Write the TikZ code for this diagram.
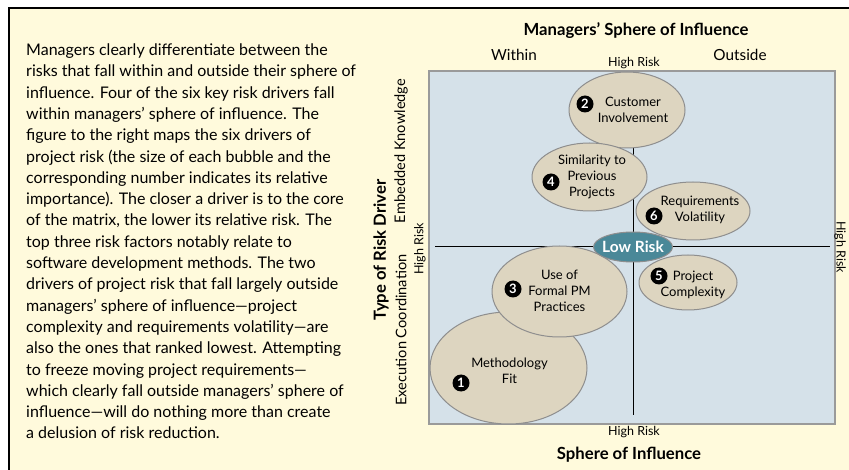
\documentclass[tikz,border=0pt]{standalone}
\usepackage{fontspec}
\setmainfont{Lato}
\usetikzlibrary{shapes.geometric}
\definecolor{creambg}{HTML}{FFFADC}
\definecolor{matrixbg}{HTML}{D5E1E9}
\definecolor{matrixline}{HTML}{9A9A9A}
\definecolor{bubblefill}{HTML}{DDD5C0}
\definecolor{bubbleline}{HTML}{8E8E8E}
\definecolor{lowriskfill}{HTML}{4A8898}
\begin{document}
\begin{tikzpicture}[x=1pt,y=-1pt,
  bubble/.style={ellipse, draw=bubbleline, fill=bubblefill, line width=1pt, inner sep=0pt},
  numdot/.style={circle, fill=black, text=white, font=\fontsize{13}{13}\selectfont\bfseries, inner sep=0pt, minimum size=17pt},
  btext/.style={align=center, font=\fontsize{13}{16}\selectfont, inner sep=0pt},
  axisline/.style={line width=1pt, black},
  smalllabel/.style={font=\fontsize{12.5}{12.5}\selectfont, inner sep=0pt},
  midlabel/.style={font=\fontsize{15.3}{15.3}\selectfont, inner sep=0pt},
  sidelabel/.style={font=\fontsize{14.6}{14.6}\selectfont, inner sep=0pt},
  titlelabel/.style={font=\fontsize{16.7}{16.7}\selectfont\bfseries, inner sep=0pt}]
\useasboundingbox (0,0) rectangle (849,470);
\fill[white] (0,0) rectangle (849,470);
\fill[creambg] (9,8) rectangle (849,470);
\draw[line width=1.5pt] (9,470) -- (9,8) -- (849,8);

% body text
\node[anchor=north west, align=left, inner sep=0pt, font=\fontsize{16}{21.3}\selectfont] (body) at (26,43.6) {%
Managers clearly differentiate between the\\
risks that fall within and outside their sphere of\\
influence. Four of the six key risk drivers fall\\
within managers’ sphere of influence. The\\
figure to the right maps the six drivers of\\
project risk (the size of each bubble and the\\
corresponding number indicates its relative\\
importance). The closer a driver is to the core\\
of the matrix, the lower its relative risk. The\\
top three risk factors notably relate to\\
software development methods. The two\\
drivers of project risk that fall largely outside\\
managers’ sphere of influence—project\\
complexity and requirements volatility—are\\
also the ones that ranked lowest. Attempting\\
to freeze moving project requirements—\\
which clearly fall outside managers’ sphere of\\
influence—will do nothing more than create\\
a delusion of risk reduction.};

% matrix
\draw[matrixline, fill=matrixbg, line width=1.2pt] (429,71) rectangle (835,424);
\coordinate (hl) at (435,247);
\coordinate (hr) at (830,247);
\coordinate (vt) at (633,72);
\coordinate (vb) at (633,415);
\draw[axisline] (hl) -- (hr);
\draw[axisline] (vt) -- (vb);

% labels
\node[titlelabel, anchor=base] (xtop) at (636,36) {Managers' Sphere of Influence};
\node[midlabel, anchor=base] (within) at (514,61) {Within};
\node[midlabel, anchor=base] (outside) at (740,61) {Outside};
\node[smalllabel, anchor=base] (hrtop) at (634,67) {High Risk};
\node[smalllabel, anchor=base] (hrbot) at (634,435) {High Risk};
\node[titlelabel, anchor=base] (xbot) at (629,459) {Sphere of Influence};
\node[titlelabel, rotate=90] (ytitle) at (381,250) {Type of Risk Driver};
\node[sidelabel, rotate=90] (embedded) at (401,151) {Embedded Knowledge};
\node[sidelabel, rotate=90] (execution) at (401,330) {Execution Coordination};
\node[smalllabel, rotate=90] (hrleft) at (420,249) {High Risk};
\node[smalllabel, rotate=-90] (hrright) at (840,247) {High Risk};

% bubbles
\node[bubble, minimum width=116pt, minimum height=76pt] (b2) at (627,110) {};
\node[bubble, minimum width=115pt, minimum height=68pt] (b4) at (589.5,177) {};
\node[bubble, minimum width=114pt, minimum height=58pt] (b6) at (693,211) {};
\node[bubble, minimum width=157pt, minimum height=112pt] (b1) at (508.5,368) {};
\node[bubble, minimum width=135pt, minimum height=91pt] (b3) at (559.5,291.5) {};
\node[bubble, minimum width=98pt, minimum height=55pt] (b5) at (688,282.5) {};

\node[btext] (t2) at (633,110.3) {Customer\\Involvement};
\node[btext] (t4) at (592,176.6) {Similarity to\\Previous\\Projects};
\node[btext] (t6) at (700,209.6) {Requirements\\Volatility};
\node[btext] (t3) at (559.5,290.7) {Use of\\Formal PM\\Practices};
\node[btext] (t5) at (693,284.6) {Project\\Complexity};
\node[btext] (t1) at (509.5,371.2) {Methodology\\Fit};

\node[numdot] (n2) at (585,104) {2};
\node[numdot] (n4) at (551,182) {4};
\node[numdot] (n6) at (654,216) {6};
\node[numdot] (n3) at (513,289) {3};
\node[numdot] (n5) at (659,276) {5};
\node[numdot] (n1) at (461,383) {1};

\node[ellipse, fill=lowriskfill, draw=bubbleline, line width=1pt, minimum width=79pt, minimum height=30pt, inner xsep=-3.5pt, inner ysep=0pt, text=white, font=\fontsize{15.5}{15.5}\selectfont\bfseries] (low) at (633,247) {Low Risk};
\end{tikzpicture}
\end{document}
